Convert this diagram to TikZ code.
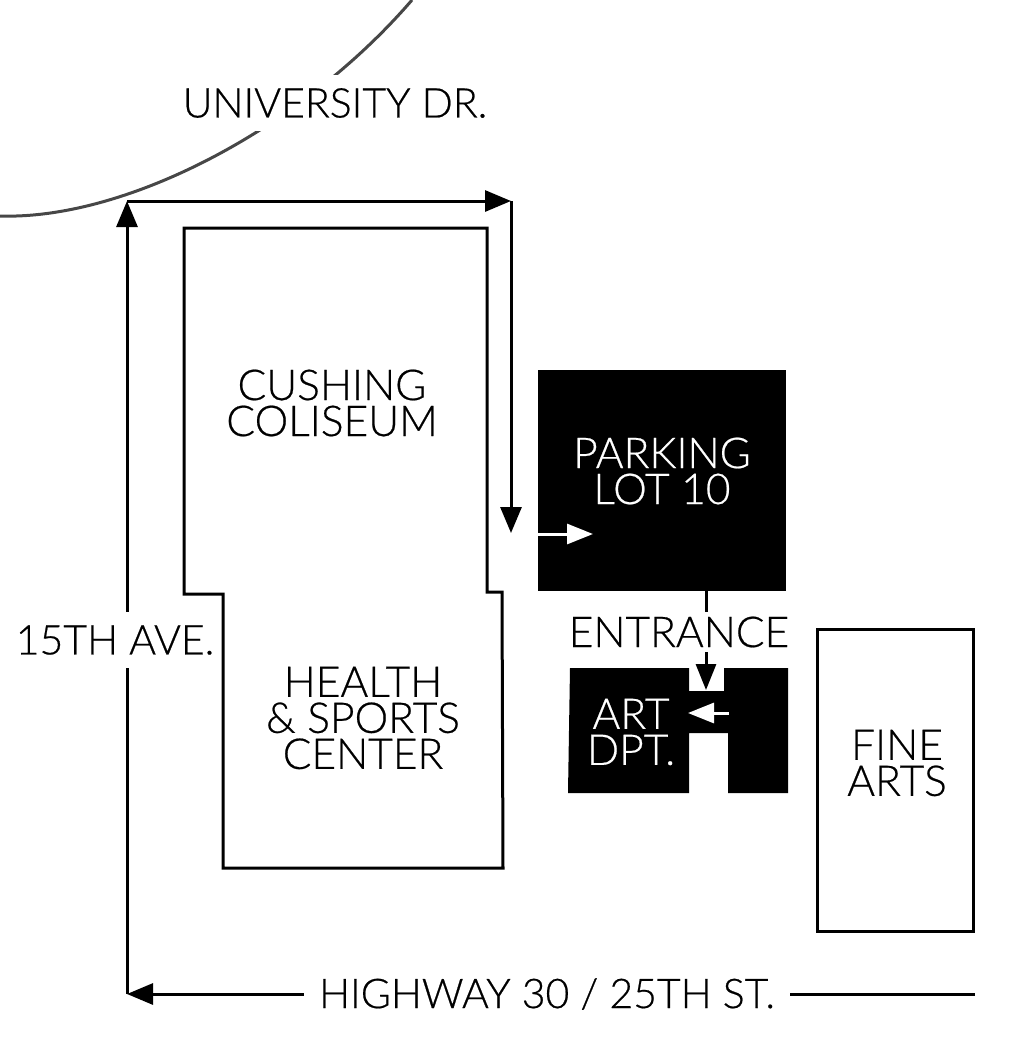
\documentclass[tikz,border=0pt]{standalone}
\usepackage{fontspec}
\setmainfont{Lato Light}[RawFeature={embolden=0.5}]
\usetikzlibrary{arrows.meta}

\begin{document}
\begin{tikzpicture}[x=1pt,y=-1pt,
  place/.style={align=center,inner sep=0pt,font=\fontsize{42.5}{36}\selectfont},
  road/.style={place,fill=white,font=\fontsize{41}{36}\selectfont},
  wall/.style={draw=black,line width=3pt},
  route/.style={line width=3pt,-{Triangle[length=26pt,width=21pt]}},
  inway/.style={line width=3pt,-{Triangle[length=26pt,width=20pt]}}]
\useasboundingbox (0,0) rectangle (1023,1050);

\coordinate (driveA) at (0,216);
\coordinate (driveB) at (412,0);
\coordinate (corner) at (127,201);
\coordinate (turn) at (511,201);
\coordinate (stop) at (511,533);
\coordinate (south) at (127,994);
\coordinate (east) at (975,994);
\coordinate (lotin) at (538,534);
\coordinate (lotend) at (593,534);
\coordinate (lotout) at (706,591);
\coordinate (artin) at (706,690);
\coordinate (doorA) at (729,713);
\coordinate (doorB) at (688,713);

\draw[line width=3pt,draw=black!72] (driveA) .. controls (125,220) and (300,130) .. (driveB);

\draw[wall] (184,228) -- (487,228) -- (487,592) -- (502,592) -- (503,868) -- (223,868) -- (223,594) -- (184,594) -- cycle;
\draw[wall] (817,629) rectangle (973,931);
\fill (538,370) rectangle (786,591);
\fill (570,668) -- (689,668) -- (689,691) -- (724,691) -- (724,668) -- (788,668) -- (788,793) -- (728,793) -- (728,733) -- (689,733) -- (689,793) -- (568,793) -- cycle;

\draw[route] (east) -- (south);
\draw[route] (south) -- (corner);
\draw[route] (corner) -- (turn);
\draw[route] (turn) -- (stop);
\draw[inway] (lotout) -- (artin);
\draw[inway,white] (lotin) -- (lotend);
\draw[inway,white] (doorA) -- (doorB);

\node[road,inner xsep=0pt,inner ysep=13pt] (drive) at (335,103) {UNIVERSITY DR.};
\node[road,inner xsep=4pt,inner ysep=13pt] (ave) at (115,640) {15TH AVE.};
\node[road,inner xsep=15pt,inner ysep=4pt] (highway) at (547,994) {HIGHWAY 30 / 25TH ST.};
\node[place,fill=white,inner ysep=5pt] (entrance) at (679,632) {ENTRANCE};

\node[place] (coliseum) at (332,403) {CUSHING\\COLISEUM};
\node[place] (health) at (363,718) {HEALTH\\\& SPORTS\\CENTER};
\node[place] (finearts) at (897,763) {FINE\\ARTS};
\node[place,white] (lot) at (662,471) {PARKING\\LOT 10};
\node[place,white] (art) at (631,732) {ART\\DPT.};
\end{tikzpicture}
\end{document}
